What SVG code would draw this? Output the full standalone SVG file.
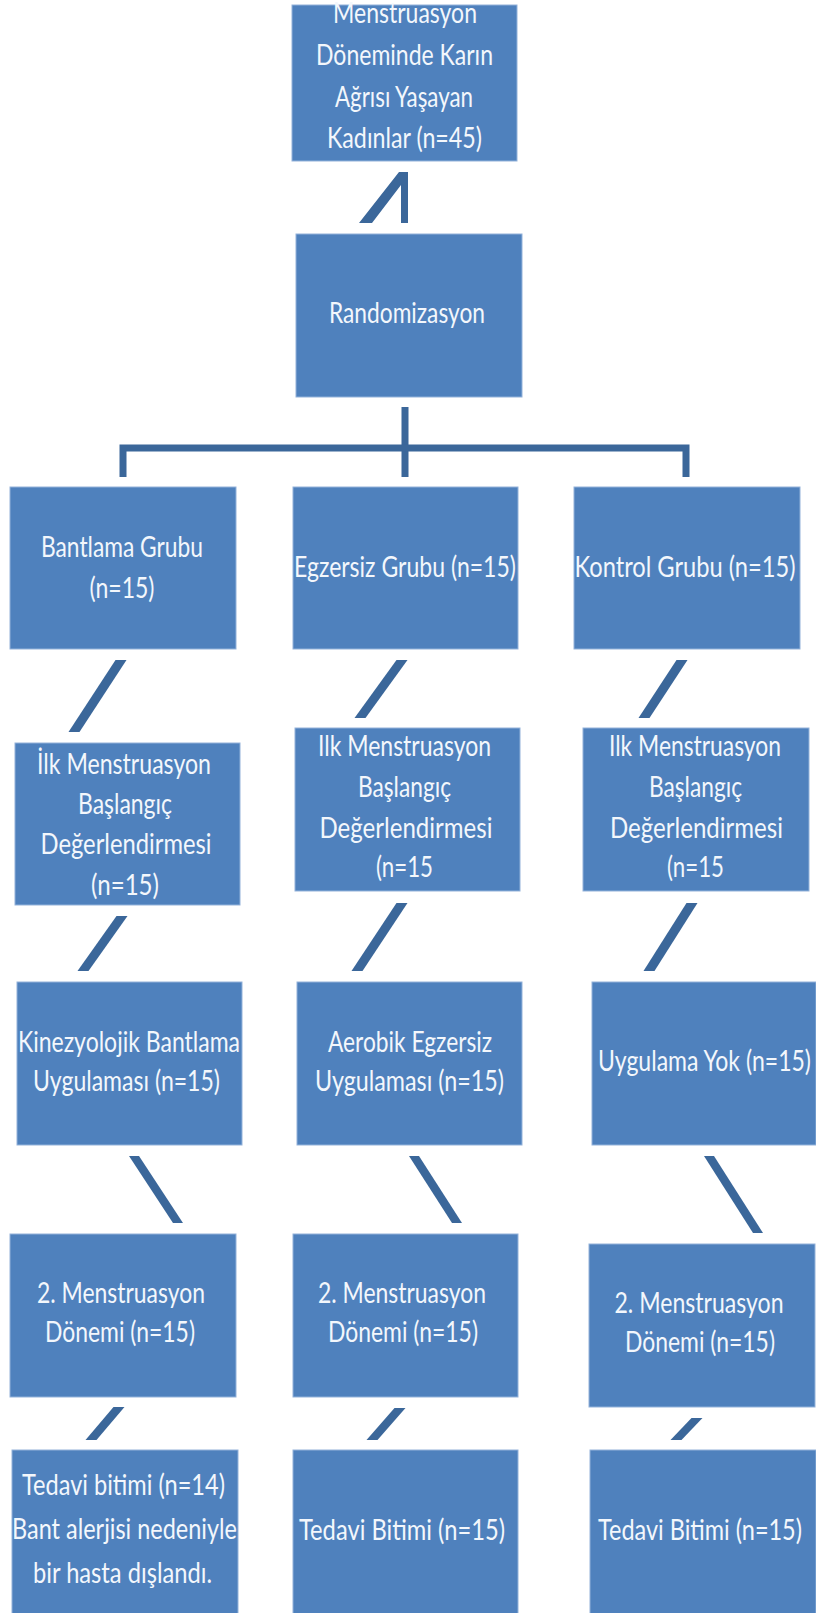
<svg xmlns="http://www.w3.org/2000/svg" width="816" height="1613" viewBox="0 0 816 1613">
<style>
.box{fill:#4f81bd;stroke:#93b2da;stroke-width:1}
.t{font-family:Lato,"Liberation Sans","DejaVu Sans",sans-serif;font-size:28px;fill:#f3f7fc;text-anchor:middle}
.c{fill:#3b679a}
.cl{fill:none;stroke:#3b679a;stroke-width:7;stroke-linejoin:miter}
</style>
<rect width="816" height="1613" fill="#ffffff"/>

<g id="connectors">
  <polygon class="c" points="359,223 372,223 401,185 401,223 408,223 408,172 399,172"/>
  <rect class="c" x="401.5" y="407" width="7" height="70"/>
  <path class="cl" d="M123,477 V448 H686 V477"/>
  <polygon class="c" points="115.5,660 126.5,660 79.5,732 68.5,732"/>
  <polygon class="c" points="396.5,660 407.5,660 365.5,718 354.5,718"/>
  <polygon class="c" points="676.5,660 687.5,660 649.5,718 638.5,718"/>
  <polygon class="c" points="116.5,916 127.5,916 88.5,971 77.5,971"/>
  <polygon class="c" points="396.5,903 407.5,903 362.5,971 351.5,971"/>
  <polygon class="c" points="686.5,903 697.5,903 654.5,971 643.5,971"/>
  <polygon class="c" points="129,1156 139,1156 183,1223 173,1223"/>
  <polygon class="c" points="409,1156 419,1156 462,1223 452,1223"/>
  <polygon class="c" points="704,1156 714,1156 763,1233 753,1233"/>
  <polygon class="c" points="113.5,1407 124.5,1407 96.5,1440 85.5,1440"/>
  <polygon class="c" points="394.5,1408 405.5,1408 377.5,1440 366.5,1440"/>
  <polygon class="c" points="691.5,1418 702.5,1418 681.5,1440 670.5,1440"/>
</g>

<g id="n-kadinlar">
  <rect class="box" x="292" y="5" width="225" height="156"/>
  <text class="t" x="405" y="23" textLength="144" lengthAdjust="spacingAndGlyphs">Menstruasyon</text>
  <text class="t" x="404.5" y="65" textLength="177" lengthAdjust="spacingAndGlyphs">Döneminde Karın</text>
  <text class="t" x="404" y="107" textLength="138" lengthAdjust="spacingAndGlyphs">Ağrısı Yaşayan</text>
  <text class="t" x="404.5" y="148" textLength="155" lengthAdjust="spacingAndGlyphs">Kadınlar (n=45)</text>
</g>

<g id="n-random">
  <rect class="box" x="296" y="234" width="226" height="163"/>
  <text class="t" x="407" y="323" textLength="156" lengthAdjust="spacingAndGlyphs">Randomizasyon</text>
</g>

<g id="n-bantlama">
  <rect class="box" x="10" y="487" width="226" height="162"/>
  <text class="t" x="122" y="557" textLength="162" lengthAdjust="spacingAndGlyphs">Bantlama Grubu</text>
  <text class="t" x="122" y="598" textLength="65" lengthAdjust="spacingAndGlyphs">(n=15)</text>
</g>
<g id="n-egzersiz">
  <rect class="box" x="293" y="487" width="225" height="162"/>
  <text class="t" x="405" y="577" textLength="222" lengthAdjust="spacingAndGlyphs">Egzersiz Grubu (n=15)</text>
</g>
<g id="n-kontrol">
  <rect class="box" x="574" y="487" width="226" height="162"/>
  <text class="t" x="685" y="577" textLength="221" lengthAdjust="spacingAndGlyphs">Kontrol Grubu (n=15)</text>
</g>

<g id="n-ilk-1">
  <rect class="box" x="15" y="743" width="225" height="162"/>
  <text class="t" x="124" y="774" textLength="174" lengthAdjust="spacingAndGlyphs">İlk Menstruasyon</text>
  <text class="t" x="125" y="814" textLength="94" lengthAdjust="spacingAndGlyphs">Başlangıç</text>
  <text class="t" x="126" y="854" textLength="171" lengthAdjust="spacingAndGlyphs">Değerlendirmesi</text>
  <text class="t" x="125" y="895" textLength="68" lengthAdjust="spacingAndGlyphs">(n=15)</text>
</g>
<g id="n-ilk-2">
  <rect class="box" x="295" y="728" width="225" height="163"/>
  <text class="t" x="404.5" y="756" textLength="173" lengthAdjust="spacingAndGlyphs">Ilk Menstruasyon</text>
  <text class="t" x="404.5" y="797" textLength="93" lengthAdjust="spacingAndGlyphs">Başlangıç</text>
  <text class="t" x="406" y="838" textLength="173" lengthAdjust="spacingAndGlyphs">Değerlendirmesi</text>
  <text class="t" x="404.5" y="877" textLength="57" lengthAdjust="spacingAndGlyphs">(n=15</text>
</g>
<g id="n-ilk-3">
  <rect class="box" x="583" y="728" width="226" height="163"/>
  <text class="t" x="695" y="756" textLength="172" lengthAdjust="spacingAndGlyphs">Ilk Menstruasyon</text>
  <text class="t" x="695.5" y="797" textLength="93" lengthAdjust="spacingAndGlyphs">Başlangıç</text>
  <text class="t" x="696.5" y="838" textLength="173" lengthAdjust="spacingAndGlyphs">Değerlendirmesi</text>
  <text class="t" x="695.5" y="877" textLength="57" lengthAdjust="spacingAndGlyphs">(n=15</text>
</g>

<g id="n-kinezyo">
  <rect class="box" x="17" y="982" width="225" height="163"/>
  <text class="t" x="129" y="1052" textLength="222" lengthAdjust="spacingAndGlyphs">Kinezyolojik Bantlama</text>
  <text class="t" x="126.5" y="1091" textLength="187" lengthAdjust="spacingAndGlyphs">Uygulaması (n=15)</text>
</g>
<g id="n-aerobik">
  <rect class="box" x="297" y="982" width="225" height="163"/>
  <text class="t" x="410" y="1052" textLength="164" lengthAdjust="spacingAndGlyphs">Aerobik Egzersiz</text>
  <text class="t" x="409.5" y="1091" textLength="189" lengthAdjust="spacingAndGlyphs">Uygulaması (n=15)</text>
</g>
<g id="n-yok">
  <rect class="box" x="592" y="982" width="224" height="163"/>
  <text class="t" x="704.5" y="1071" textLength="213" lengthAdjust="spacingAndGlyphs">Uygulama Yok (n=15)</text>
</g>

<g id="n-donem-1">
  <rect class="box" x="10" y="1234" width="226" height="163"/>
  <text class="t" x="121" y="1303" textLength="168" lengthAdjust="spacingAndGlyphs">2. Menstruasyon</text>
  <text class="t" x="120" y="1342" textLength="150" lengthAdjust="spacingAndGlyphs">Dönemi (n=15)</text>
</g>
<g id="n-donem-2">
  <rect class="box" x="293" y="1234" width="225" height="163"/>
  <text class="t" x="402" y="1303" textLength="168" lengthAdjust="spacingAndGlyphs">2. Menstruasyon</text>
  <text class="t" x="403" y="1342" textLength="150" lengthAdjust="spacingAndGlyphs">Dönemi (n=15)</text>
</g>
<g id="n-donem-3">
  <rect class="box" x="589" y="1244" width="226" height="163"/>
  <text class="t" x="699" y="1313" textLength="169" lengthAdjust="spacingAndGlyphs">2. Menstruasyon</text>
  <text class="t" x="700" y="1352" textLength="150" lengthAdjust="spacingAndGlyphs">Dönemi (n=15)</text>
</g>

<g id="n-bitim-1">
  <rect class="box" x="12" y="1450" width="226" height="170"/>
  <text class="t" x="123.5" y="1495" textLength="203" lengthAdjust="spacingAndGlyphs">Tedavi bitimi (n=14)</text>
  <text class="t" x="124.5" y="1539" textLength="225" lengthAdjust="spacingAndGlyphs">Bant alerjisi nedeniyle</text>
  <text class="t" x="122.5" y="1583" textLength="179" lengthAdjust="spacingAndGlyphs">bir hasta dışlandı.</text>
</g>
<g id="n-bitim-2">
  <rect class="box" x="293" y="1450" width="225" height="170"/>
  <text class="t" x="402" y="1540" textLength="206" lengthAdjust="spacingAndGlyphs">Tedavi Bitimi (n=15)</text>
</g>
<g id="n-bitim-3">
  <rect class="box" x="590" y="1450" width="226" height="170"/>
  <text class="t" x="700" y="1540" textLength="204" lengthAdjust="spacingAndGlyphs">Tedavi Bitimi (n=15)</text>
</g>
</svg>
